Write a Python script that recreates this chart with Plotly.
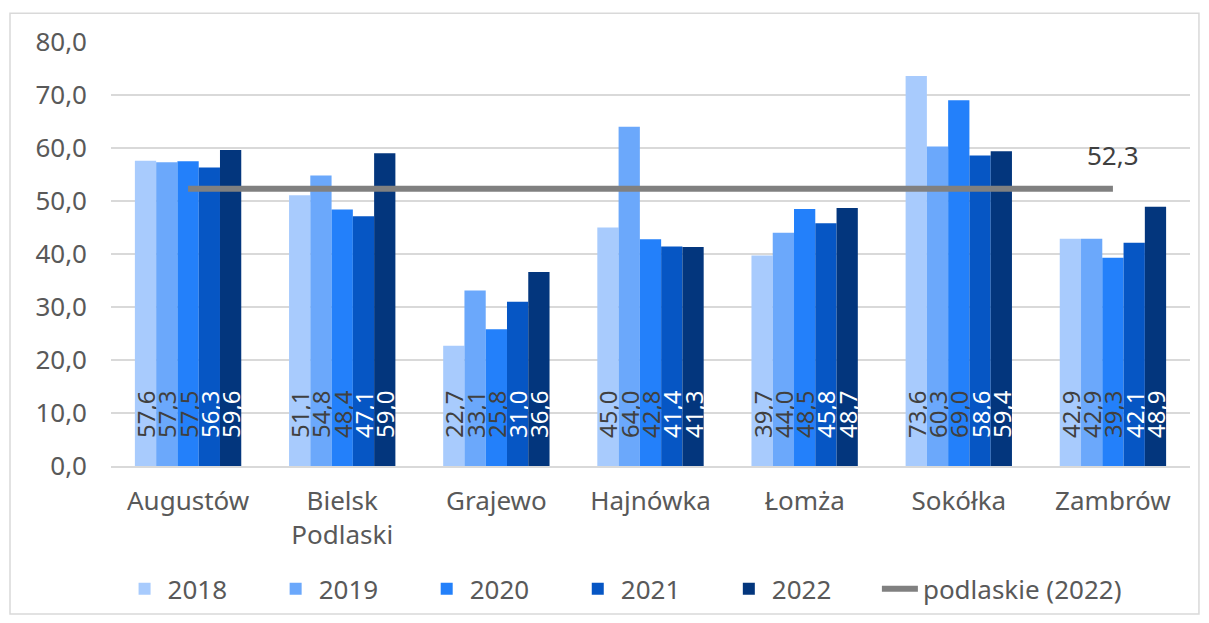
import plotly.graph_objects as go

categories = ["Augustów", "Bielsk<br>Podlaski", "Grajewo", "Hajnówka", "Łomża", "Sokółka", "Zambrów"]
years = ["2018", "2019", "2020", "2021", "2022"]
v2018 = [57.6, 51.1, 22.7, 45.0, 39.7, 73.6, 42.9]
v2019 = [57.3, 54.8, 33.1, 64.0, 44.0, 60.3, 42.9]
v2020 = [57.5, 48.4, 25.8, 42.8, 48.5, 69.0, 39.3]
v2021 = [56.3, 47.1, 31.0, 41.4, 45.8, 58.6, 42.1]
v2022 = [59.6, 59.0, 36.6, 41.3, 48.7, 59.4, 48.9]
podlaskie = 52.3
series = [v2018, v2019, v2020, v2021, v2022]
colors = ["#A8CBFD", "#6BA8FB", "#2380FA", "#0656C4", "#03367D"]
label_colors = ["#404040", "#404040", "#404040", "#FFFFFF", "#FFFFFF"]

FONT = "Noto Sans"
GRAY = "#595959"
PAD = "\u00a0" * 6

def fmt(v):
    return f"{v:.1f}".replace(".", ",")

fig = go.Figure()
for yr, vals, c, lc in zip(years, series, colors, label_colors):
    fig.add_trace(go.Bar(
        x=categories, y=vals, name=yr + PAD,
        marker=dict(color=c, line=dict(width=0)),
        text=["\u00a0\u00a0\u00a0\u00a0" + fmt(v) for v in vals],
        textposition="inside", insidetextanchor="start", textangle=-90,
        textfont=dict(family=FONT, size=24, color=lc),
    ))

fig.add_trace(go.Scatter(
    x=categories, y=[podlaskie] * len(categories), name="podlaskie (2022)",
    mode="lines",
    line=dict(color="#808080", width=6),
))
fig.add_annotation(x=categories[-1], y=podlaskie, text=fmt(podlaskie),
                   showarrow=False, yshift=34,
                   font=dict(family=FONT, size=26, color="#404040"))

fig.update_layout(
    width=1193, height=607,
    paper_bgcolor="white", plot_bgcolor="white",
    margin=dict(l=103, r=11, t=34, b=149),
    barmode="group", bargap=0.31, bargroupgap=0,
    font=dict(family=FONT, size=26, color=GRAY),
    uniformtext=dict(minsize=24, mode="show"),
    legend=dict(orientation="h", x=0.0098, xanchor="left",
                yref="container", y=0.043, yanchor="middle",
                font=dict(size=26, color=GRAY), traceorder="normal",
                itemwidth=36),
    xaxis=dict(showgrid=False, showline=True, linecolor="#D9D9D9", linewidth=1.5,
               tickfont=dict(size=26, color=GRAY), ticks="", ticklabelstandoff=11),
    yaxis=dict(range=[0, 80], dtick=10, tickformat=".1f", showgrid=True,
               gridcolor="#D9D9D9", gridwidth=1.5, zeroline=False,
               tickfont=dict(size=26, color=GRAY), ticklabelstandoff=23),
    separators=",.",
    shapes=[dict(type="rect", xref="paper", yref="paper",
                 x0=-0.0936, x1=1.0083, y0=-0.349, y1=1.068,
                 line=dict(color="#D9D9D9", width=1.5), layer="below")],
)

fig.write_html("out.html")
